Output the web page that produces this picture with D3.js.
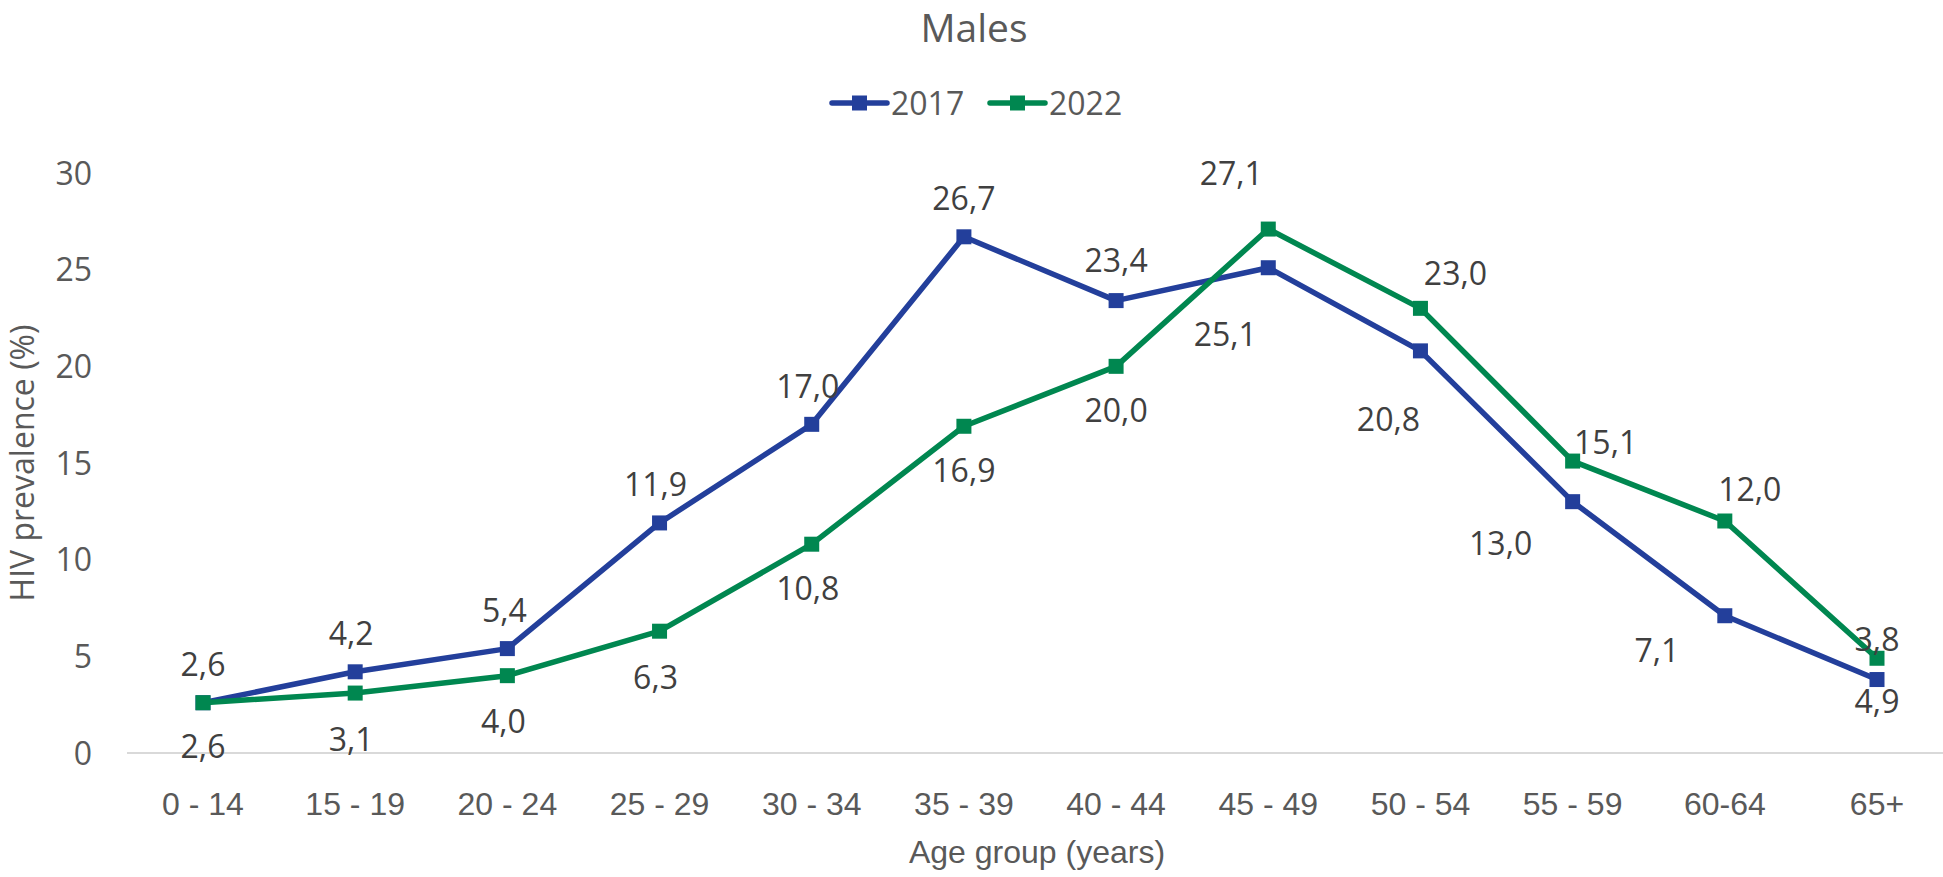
<!DOCTYPE html>
<html>
<head>
<meta charset="utf-8">
<script src="https://cdn.jsdelivr.net/npm/d3@7"></script>
<style>
  body { margin: 0; background: #fff; }
  svg { display: block; }
</style>
</head>
<body>
<svg class="chart"></svg>
<script>
// age groups on the x axis
var ages = ["0 - 14", "15 - 19", "20 - 24", "25 - 29", "30 - 34", "35 - 39",
            "40 - 44", "45 - 49", "50 - 54", "55 - 59", "60-64", "65+"];
// HIV prevalence (%) per series
var values2017 = [2.6, 4.2, 5.4, 11.9, 17.0, 26.7, 23.4, 25.1, 20.8, 13.0, 7.1, 3.8];
var values2022 = [2.6, 3.1, 4.0, 6.3, 10.8, 16.9, 20.0, 27.1, 23.0, 15.1, 12.0, 4.9];
// data label text as printed in the source (the 65+ pair is swapped there)
var labels2017 = ["2,6", "4,2", "5,4", "11,9", "17,0", "26,7", "23,4", "25,1", "20,8", "13,0", "7,1", "4,9"];
var labels2022 = ["2,6", "3,1", "4,0", "6,3", "10,8", "16,9", "20,0", "27,1", "23,0", "15,1", "12,0", "3,8"];
var yTicks = [0, 5, 10, 15, 20, 25, 30];

// label offsets from the point (layout only)
var off2017 = [[0,-38],[-4,-38],[-3,-38],[-4,-38],[-4,-38],[0,-38],[0,-40],[-43,67],[-32,69],[-72,42],[-68,35],[0,22]];
var off2022 = [[0,44],[-4,46],[-4,46],[-4,46],[-4,44],[0,44],[0,44],[-37,-56],[35,-35],[33,-19],[25,-32],[0,-19]];

var series = [
  {name: "2017", values: values2017, labels: labels2017, off: off2017, color: "#233f9b"},
  {name: "2022", values: values2022, labels: labels2022, off: off2022, color: "#008750"}
];

var width = 1943, height = 877;

var svg = d3.select(".chart")
    .attr("width", width)
    .attr("height", height);

var x = d3.scalePoint()
    .domain(ages)
    .range([203, 1877]);

var y = d3.scaleLinear()
    .domain([0, 30])
    .range([753, 173]);

//title
svg.append("text")
    .attr("x", 974).attr("y", 42)
    .attr("text-anchor", "middle")
    .style("font-family", "'Open Sans', sans-serif")
    .style("font-size", "39px")
    .style("fill", "#595959")
    .text("Males");

//legend
var legendX = [832, 990];
var leg = svg.selectAll(".legend")
    .data(series)
    .enter().append("g")
    .attr("transform", function(d, i) { return "translate(" + legendX[i] + ",103)"; });
leg.append("line")
    .attr("x1", 0).attr("x2", 55)
    .attr("stroke", function(d) { return d.color; })
    .attr("stroke-width", 5.5)
    .attr("stroke-linecap", "round");
leg.append("rect")
    .attr("x", 20).attr("y", -7.5)
    .attr("width", 15).attr("height", 15)
    .attr("fill", function(d) { return d.color; });
leg.append("text")
    .attr("x", 59).attr("dy", "0.36em")
    .style("font-family", "'Open Sans', sans-serif")
    .style("font-size", "32px")
    .style("fill", "#595959")
    .text(function(d) { return d.name; });

//y axis ticks
svg.append("g").selectAll("text")
    .data(yTicks)
    .enter().append("text")
    .attr("x", 92)
    .attr("y", function(d) { return y(d); })
    .attr("dy", "0.36em")
    .attr("text-anchor", "end")
    .style("font-family", "'Open Sans', sans-serif")
    .style("font-size", "32px")
    .style("fill", "#595959")
    .text(function(d) { return d; });

//y axis title
svg.append("text")
    .attr("transform", "translate(22,463) rotate(-90)")
    .attr("text-anchor", "middle")
    .attr("dy", "0.36em")
    .style("font-family", "'Open Sans', sans-serif")
    .style("font-size", "32px")
    .style("fill", "#595959")
    .text("HIV prevalence (%)");

//x axis line
svg.append("line")
    .attr("x1", 127).attr("x2", width)
    .attr("y1", y(0)).attr("y2", y(0))
    .attr("stroke", "#d9d9d9")
    .attr("stroke-width", 2);

//x tick labels
svg.append("g").selectAll("text")
    .data(ages)
    .enter().append("text")
    .attr("x", function(d) { return x(d); })
    .attr("y", 815)
    .attr("text-anchor", "middle")
    .style("font-family", "'Liberation Sans', sans-serif")
    .style("font-size", "32px")
    .style("fill", "#595959")
    .text(function(d) { return d; });

//x axis title
svg.append("text")
    .attr("x", 1037).attr("y", 863)
    .attr("text-anchor", "middle")
    .style("font-family", "'Liberation Sans', sans-serif")
    .style("font-size", "32px")
    .style("fill", "#595959")
    .text("Age group (years)");

//lines and markers
var line = d3.line()
    .x(function(d, i) { return x(ages[i]); })
    .y(function(d) { return y(d); });

var g = svg.selectAll(".series")
    .data(series)
    .enter().append("g");

g.append("path")
    .attr("d", function(d) { return line(d.values); })
    .attr("fill", "none")
    .attr("stroke", function(d) { return d.color; })
    .attr("stroke-width", 5.5)
    .attr("stroke-linejoin", "round");

g.each(function(s) {
  d3.select(this).selectAll("rect")
      .data(s.values)
      .enter().append("rect")
      .attr("x", function(d, i) { return x(ages[i]) - 7.5; })
      .attr("y", function(d) { return y(d) - 7.5; })
      .attr("width", 15).attr("height", 15)
      .attr("fill", s.color);
});

//data labels
g.each(function(s) {
  d3.select(this).selectAll("text")
      .data(s.values)
      .enter().append("text")
      .attr("x", function(d, i) { return x(ages[i]) + s.off[i][0]; })
      .attr("y", function(d, i) { return y(d) + s.off[i][1]; })
      .attr("dy", "0.36em")
      .attr("text-anchor", "middle")
      .style("font-family", "'Open Sans', sans-serif")
      .style("font-size", "32px")
      .style("fill", "#404040")
      .text(function(d, i) { return s.labels[i]; });
});
</script>
</body>
</html>
